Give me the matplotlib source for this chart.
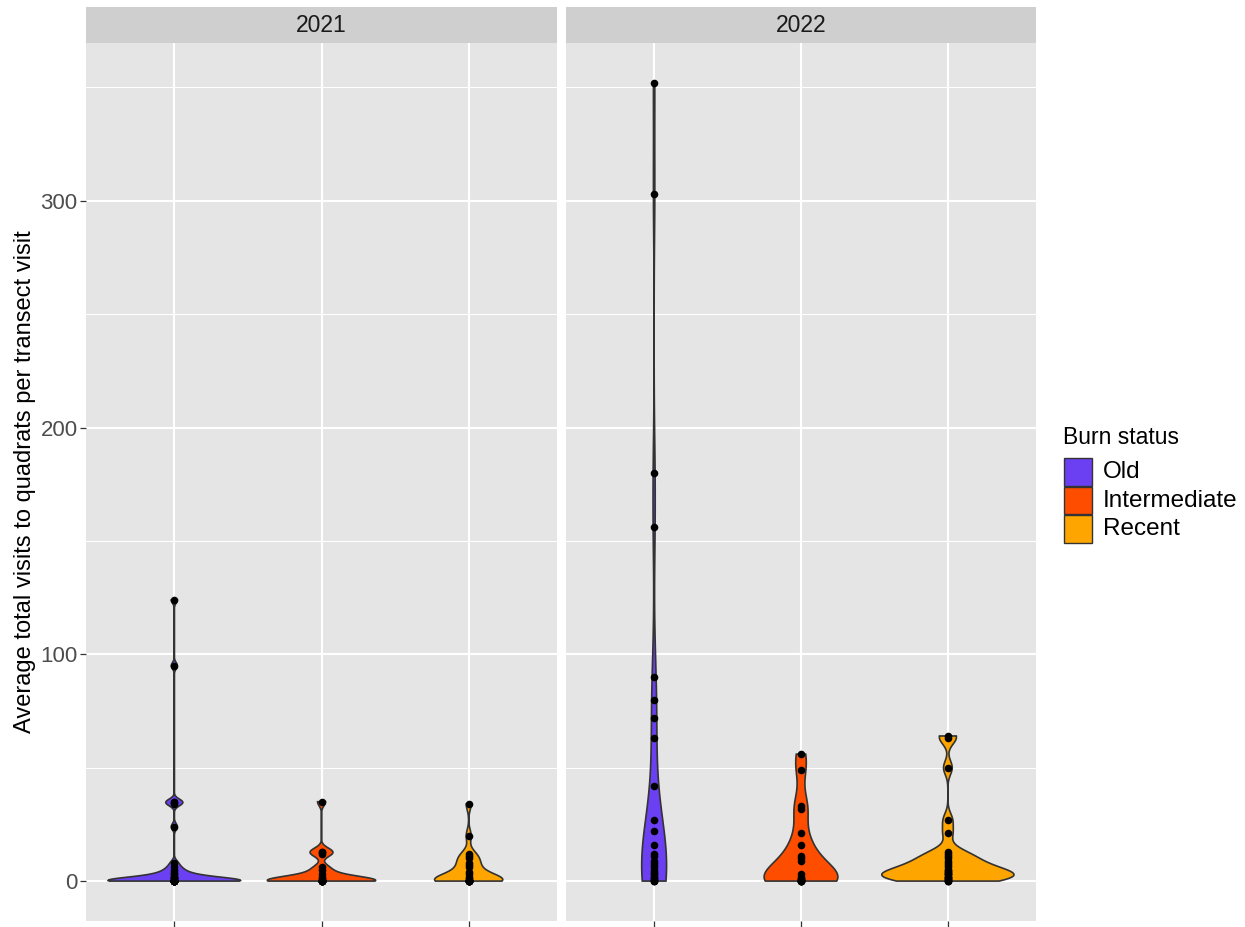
import numpy as np
import matplotlib.pyplot as plt
from matplotlib.patches import Rectangle

plt.rcParams['font.family'] = ['Liberation Sans', 'DejaVu Sans']

years = ["2021", "2022"]
statuses = ["Old", "Intermediate", "Recent"]
colours = ["#6A40F2", "#FF4D00", "#FFA500"]

# values (many overlap near zero)
old_2021 = [0] * 18 + [1, 1, 1, 2, 2, 2, 3, 3, 4, 5, 6, 8, 24, 34, 35, 35, 95, 124]
inter_2021 = [0] * 11 + [1, 1, 2, 3, 5, 6, 12, 13, 13, 35]
recent_2021 = [0] * 10 + [1, 1, 2, 3, 4, 6, 7, 8, 10, 11, 12, 20, 34]

old_2022 = [0, 0, 0, 1, 1, 2, 2, 3, 3, 4, 5, 6, 7, 8, 9, 11, 12, 16, 22, 27, 42,
            63, 72, 80, 90, 156, 180, 303, 352]
inter_2022 = [0] * 6 + [1, 1, 1, 2, 3, 9, 10, 11, 16, 21, 32, 33, 49, 56]
recent_2022 = [0, 0, 0, 1, 1, 1, 2, 2, 2, 3, 3, 3, 4, 4, 5, 5, 6, 7, 8, 9, 10, 11,
               12, 13, 21, 27, 50, 63, 64]

data = {
    "2021": [old_2021, inter_2021, recent_2021],
    "2022": [old_2022, inter_2022, recent_2022],
}

y_label = "Average total visits to quadrats per transect visit"
legend_title = "Burn status"


def bw_nrd0(x):
    hi = np.std(x, ddof=1)
    q75, q25 = np.percentile(x, [75, 25])
    lo = min(hi, (q75 - q25) / 1.34)
    if lo == 0:
        lo = hi or abs(x[0]) or 1
    return 0.9 * lo * len(x) ** -0.2


def ydensity(x):
    x = np.asarray(x, float)
    bw = bw_nrd0(x)
    grid = np.linspace(x.min(), x.max(), 512)
    z = (grid[:, None] - x[None, :]) / bw
    dens = np.exp(-0.5 * z ** 2).sum(1) / (len(x) * bw * np.sqrt(2 * np.pi))
    return grid, dens


W, H = 1245, 927
fig = plt.figure(figsize=(W / 100, H / 100), dpi=100)


def box(l, t, r, b):
    return [l / W, 1 - b / H, (r - l) / W, (b - t) / H]


all_vals = np.concatenate([np.asarray(v, float) for yr in years for v in data[yr]])
lo, hi = all_vals.min(), all_vals.max()
pad = 0.05 * (hi - lo)

panels = [(86, 557), (566, 1036)]
for p, yr in enumerate(years):
    l, r = panels[p]
    ax = fig.add_axes(box(l, 43, r, 921))
    ax.set_facecolor("#E5E5E5")
    for s in ax.spines.values():
        s.set_visible(False)
    ax.set_xlim(0.4, 3.6)
    ax.set_ylim(lo - pad, hi + pad)
    ax.set_xticks([1, 2, 3])
    ax.set_xticklabels([])
    ax.set_yticks([0, 100, 200, 300])
    ax.set_yticks([50, 150, 250, 350], minor=True)
    ax.grid(True, which="major", color="white", lw=1.5)
    ax.grid(True, which="minor", axis="y", color="white", lw=0.75)
    ax.set_axisbelow(True)
    ax.tick_params(axis="both", which="major", length=4, width=0.9, color="#333333",
                   labelsize=16, labelcolor="#4D4D4D", pad=2)
    ax.tick_params(axis="y", which="minor", length=0)
    if p == 1:
        ax.tick_params(axis="y", which="major", length=0, labelleft=False)
    else:
        ax.set_ylabel(y_label, fontsize=17, color="black", labelpad=3)

    grids = [ydensity(v) for v in data[yr]]
    dmax = max(d.max() for g, d in grids)
    for i, (vals, (g, d)) in enumerate(zip(data[yr], grids)):
        x0 = i + 1
        half = 0.45 * d / dmax
        xs = np.concatenate([x0 - half, (x0 + half)[::-1]])
        ys = np.concatenate([g, g[::-1]])
        ax.fill(xs, ys, facecolor=colours[i], edgecolor="#333333", lw=1.2, zorder=2)
        ax.scatter(np.full(len(vals), x0), vals, s=30, color="black", zorder=3,
                   linewidths=0)

    sax = fig.add_axes(box(l, 7, r, 43))
    sax.set_facecolor("#CFCFCF")
    sax.set_xticks([])
    sax.set_yticks([])
    for s in sax.spines.values():
        s.set_visible(False)
    sax.text(0.5, 0.5, yr, ha="center", va="center", fontsize=16.5, color="#1A1A1A",
             transform=sax.transAxes)

# legend
fig.text(1063 / W, 1 - 438 / H, legend_title, fontsize=16.5, ha="left", va="center")
for i, name in enumerate(statuses):
    top = 458 + i * 28.7
    fig.patches.append(Rectangle((1064 / W, 1 - (top + 27.5) / H), 27.5 / W, 27.5 / H,
                                 transform=fig.transFigure, facecolor=colours[i],
                                 edgecolor="#333333", lw=1.0))
    fig.text(1103 / W, 1 - (top + 14) / H, name, fontsize=17.5, ha="left", va="center")

fig.savefig("out.png", dpi=100)
